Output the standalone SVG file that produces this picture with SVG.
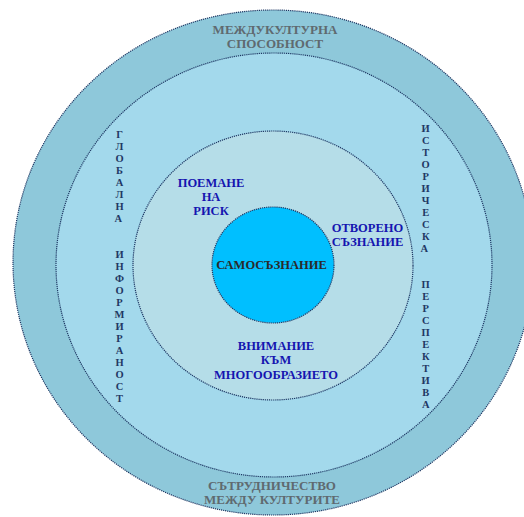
<svg xmlns="http://www.w3.org/2000/svg" width="524" height="517" viewBox="0 0 524 517">
<style>
.ring{stroke:#1F3864;stroke-width:1.2;stroke-dasharray:1.2 0.9}
text{font-family:"Liberation Serif","Times New Roman",serif;font-weight:bold;text-anchor:middle}
.outer{font-size:13px;fill:#5F6A70}
.vert{font-size:10.5px;fill:#1F3864}
.blue{font-size:12.5px;fill:#1515B0}
.core{font-size:12.5px;fill:#2A2A2A}
</style>
<rect width="524" height="517" fill="#FFFFFF"/>
<g id="ring-outer">
<ellipse class="ring" cx="273" cy="262.5" rx="260" ry="252.5" fill="#8EC8DA"/>
<text class="outer" x="275" y="34">МЕЖДУКУЛТУРНА</text>
<text class="outer" x="275" y="48">СПОСОБНОСТ</text>
<text class="outer" x="272" y="490">СЪТРУДНИЧЕСТВО</text>
<text class="outer" x="272" y="504">МЕЖДУ КУЛТУРИТЕ</text>
</g>
<g id="ring-second">
<ellipse class="ring" cx="274" cy="265" rx="218" ry="212" fill="#A3D9EC"/>
<text class="vert" x="119.5">
<tspan x="119.5" y="138.3">Г</tspan><tspan x="119.5" y="150.3">Л</tspan><tspan x="119.5" y="162.3">О</tspan><tspan x="119.5" y="174.3">Б</tspan><tspan x="119.5" y="186.3">А</tspan><tspan x="119.5" y="198.3">Л</tspan><tspan x="119.5" y="210.3">Н</tspan><tspan x="119.5" y="222.3">А</tspan>
<tspan x="119.5" y="258">И</tspan><tspan x="119.5" y="270">Н</tspan><tspan x="119.5" y="282">Ф</tspan><tspan x="119.5" y="294">О</tspan><tspan x="119.5" y="306">Р</tspan><tspan x="119.5" y="318">М</tspan><tspan x="119.5" y="330">И</tspan><tspan x="119.5" y="342">Р</tspan><tspan x="119.5" y="354">А</tspan><tspan x="119.5" y="366">Н</tspan><tspan x="119.5" y="378">О</tspan><tspan x="119.5" y="390">С</tspan><tspan x="119.5" y="402">Т</tspan>
</text>
<text class="vert" x="425.7">
<tspan x="425.7" y="132">И</tspan><tspan x="425.7" y="144">С</tspan><tspan x="425.7" y="156">Т</tspan><tspan x="425.7" y="168">О</tspan><tspan x="425.7" y="180">Р</tspan><tspan x="425.7" y="192">И</tspan><tspan x="425.7" y="204">Ч</tspan><tspan x="425.7" y="216">Е</tspan><tspan x="425.7" y="228">С</tspan><tspan x="425.7" y="240">К</tspan><tspan x="425.7" y="252">А</tspan>
<tspan x="425.7" y="288">П</tspan><tspan x="425.7" y="300">Е</tspan><tspan x="425.7" y="312">Р</tspan><tspan x="425.7" y="324">С</tspan><tspan x="425.7" y="336">П</tspan><tspan x="425.7" y="348">Е</tspan><tspan x="425.7" y="360">К</tspan><tspan x="425.7" y="372">Т</tspan><tspan x="425.7" y="384">И</tspan><tspan x="425.7" y="396">В</tspan><tspan x="425.7" y="408">А</tspan>
</text>
</g>
<g id="ring-third">
<ellipse class="ring" cx="273" cy="265.5" rx="140" ry="134.5" fill="#B5DDE8"/>
<text class="blue" x="211" y="187">ПОЕМАНЕ</text>
<text class="blue" x="211" y="201">НА</text>
<text class="blue" x="211" y="215">РИСК</text>
<text class="blue" x="367.5" y="232">ОТВОРЕНО</text>
<text class="blue" x="367.5" y="246">СЪЗНАНИЕ</text>
<text class="blue" x="276" y="350">ВНИМАНИЕ</text>
<text class="blue" x="276" y="364">КЪМ</text>
<text class="blue" x="276" y="379">МНОГООБРАЗИЕТО</text>
</g>
<g id="core">
<ellipse class="ring" cx="273" cy="265" rx="61" ry="58" fill="#00BFFF"/>
<text class="core" x="271.5" y="269">САМОСЪЗНАНИЕ</text>
</g>
<g id="connectors"/>
</svg>
